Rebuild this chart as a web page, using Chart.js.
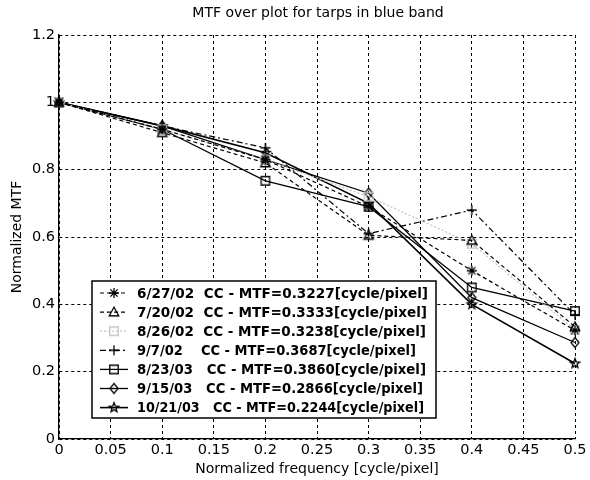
<!DOCTYPE html>
<html><head><meta charset="utf-8">
<script src="https://cdn.jsdelivr.net/npm/chart.js@4/dist/chart.umd.min.js"></script>
<style>html,body{margin:0;padding:0;background:#fff}#wrap{width:590px;height:480px;position:relative}</style>
</head><body><div id="wrap"><canvas id="c" width="590" height="480"></canvas></div>
<script>
const chartTitle = 'MTF over plot for tarps in blue band';
const xAxisTitle = 'Normalized frequency [cycle/pixel]';
const yAxisTitle = 'Normalized MTF';
const frequencies = [0, 0.1, 0.2, 0.3, 0.4, 0.5];
const seriesLabels = [
  '6/27/02  CC - MTF=0.3227[cycle/pixel]',
  '7/20/02  CC - MTF=0.3333[cycle/pixel]',
  '8/26/02  CC - MTF=0.3238[cycle/pixel]',
  '9/7/02    CC - MTF=0.3687[cycle/pixel]',
  '8/23/03   CC - MTF=0.3860[cycle/pixel]',
  '9/15/03   CC - MTF=0.2866[cycle/pixel]',
  '10/21/03   CC - MTF=0.2244[cycle/pixel]'
];
const mtf_062702 = [1, 0.92, 0.83, 0.69, 0.50, 0.3227];
const mtf_072002 = [1, 0.91, 0.82, 0.605, 0.59, 0.3333];
const mtf_082602 = [1, 0.92, 0.83, 0.72, 0.58, 0.3238];
const mtf_090702 = [1, 0.93, 0.865, 0.61, 0.68, 0.3687];
const mtf_082303 = [1, 0.92, 0.767, 0.69, 0.45, 0.38];
const mtf_091503 = [1, 0.93, 0.83, 0.73, 0.42, 0.2866];
const mtf_102103 = [1, 0.93, 0.85, 0.70, 0.40, 0.2244];
const yTicks = [0, 0.2, 0.4, 0.6, 0.8, 1, 1.2];
const xTicks = [0, 0.05, 0.1, 0.15, 0.2, 0.25, 0.3, 0.35, 0.4, 0.45, 0.5];

const seriesValues = [mtf_062702, mtf_072002, mtf_082602, mtf_090702, mtf_082303, mtf_091503, mtf_102103];
const styles = [
  {marker:'asterisk', color:'#000', dash:[4,3], width:1.2},
  {marker:'triangle', color:'#000', dash:[4,3], width:1.2},
  {marker:'square', color:'#c4c4c4', dash:[2,2], width:1.2},
  {marker:'plus', color:'#000', dash:[6,3,2,3], width:1.2},
  {marker:'square', color:'#000', dash:[], width:1.3},
  {marker:'diamond', color:'#000', dash:[], width:1.3},
  {marker:'pentagram', color:'#000', dash:[], width:1.6}
];
const legendTextEnds = [428, 427, 426, 416, 426, 423, 424];

function drawMarker(ctx, style, x, y, r, color) {
  ctx.save();
  ctx.strokeStyle = color; ctx.lineWidth = 1.3; ctx.setLineDash([]);
  ctx.beginPath();
  if (style === 'asterisk') {
    ctx.moveTo(x - r, y); ctx.lineTo(x + r, y);
    ctx.moveTo(x, y - r); ctx.lineTo(x, y + r);
    const d = r * 0.72;
    ctx.moveTo(x - d, y - d); ctx.lineTo(x + d, y + d);
    ctx.moveTo(x - d, y + d); ctx.lineTo(x + d, y - d);
  } else if (style === 'triangle') {
    ctx.moveTo(x, y - r); ctx.lineTo(x + r * 0.95, y + r * 0.75); ctx.lineTo(x - r * 0.95, y + r * 0.75); ctx.closePath();
  } else if (style === 'square') {
    const s = r * 0.85;
    ctx.rect(x - s, y - s, 2 * s, 2 * s);
  } else if (style === 'plus') {
    ctx.moveTo(x - r, y); ctx.lineTo(x + r, y);
    ctx.moveTo(x, y - r); ctx.lineTo(x, y + r);
  } else if (style === 'diamond') {
    ctx.moveTo(x, y - r); ctx.lineTo(x + r * 0.8, y); ctx.lineTo(x, y + r); ctx.lineTo(x - r * 0.8, y); ctx.closePath();
  } else if (style === 'pentagram') {
    for (let i = 0; i < 10; i++) {
      const a = -Math.PI / 2 + i * Math.PI / 5;
      const rr = i % 2 === 0 ? r : r * 0.42;
      const px = x + rr * Math.cos(a), py = y + rr * Math.sin(a);
      if (i === 0) ctx.moveTo(px, py); else ctx.lineTo(px, py);
    }
    ctx.closePath();
  }
  ctx.stroke();
  ctx.restore();
}

function markerImage(style, color) {
  const r = 5, size = 2 * r + 4;
  const cv = document.createElement('canvas');
  cv.width = size; cv.height = size;
  drawMarker(cv.getContext('2d'), style, size / 2, size / 2, r, color);
  return cv;
}

const markerImages = styles.map(s => markerImage(s.marker, s.color));

const datasets = seriesLabels.map((label, i) => ({
  label: label,
  data: frequencies.map((f, j) => ({x: f, y: seriesValues[i][j]})),
  borderColor: styles[i].color,
  borderWidth: styles[i].width,
  borderDash: styles[i].dash,
  pointStyle: markerImages[i],
  pointRadius: 5,
  fill: false,
  tension: 0,
  clip: false
}));

const FONT = '"DejaVu Sans", "Liberation Sans", Arial, sans-serif';

const titleAndLegend = {
  id: 'titleAndLegend',
  afterDraw(chart) {
    const ctx = chart.ctx, ca = chart.chartArea;
    ctx.save();
    ctx.fillStyle = '#000';
    ctx.font = '14px ' + FONT;
    ctx.textAlign = 'center'; ctx.textBaseline = 'middle';
    ctx.fillText(chartTitle, (ca.left + ca.right) / 2 + 1, 13);
    // legend box
    const bx = 92, by = 281, bw = 344, bh = 137;
    ctx.fillStyle = '#fff';
    ctx.fillRect(bx, by, bw, bh);
    ctx.strokeStyle = '#000'; ctx.lineWidth = 1.5; ctx.setLineDash([]);
    ctx.strokeRect(bx, by, bw, bh);
    ctx.font = 'bold 13.5px ' + FONT;
    ctx.textAlign = 'left';
    chart.data.datasets.forEach((ds, i) => {
      const y = by + 12 + i * 19.1;
      ctx.save();
      ctx.strokeStyle = ds.borderColor; ctx.lineWidth = ds.borderWidth;
      ctx.setLineDash(ds.borderDash);
      ctx.beginPath(); ctx.moveTo(100, y); ctx.lineTo(128, y); ctx.stroke();
      ctx.restore();
      const img = markerImages[i];
      ctx.drawImage(img, 114 - img.width / 2, y - img.height / 2);
      const w = ctx.measureText(ds.label).width;
      const sx = (legendTextEnds[i] - 137) / w;
      ctx.save();
      ctx.translate(137, y + 1);
      ctx.scale(sx, 1);
      ctx.fillStyle = '#000';
      ctx.fillText(ds.label, 0, 0);
      ctx.restore();
    });
    ctx.restore();
  }
};

new Chart(document.getElementById('c'), {
  type: 'line',
  data: {datasets: datasets},
  options: {
    responsive: false,
    animation: false,
    devicePixelRatio: 1,
    layout: {padding: {left: 0, right: 15, top: 35, bottom: 0}},
    plugins: {legend: {display: false}, tooltip: {enabled: false}, title: {display: false}},
    scales: {
      x: {
        type: 'linear', min: 0, max: 0.5,
        afterFit: s => { s.height = 41; },
        afterBuildTicks: s => { s.ticks = xTicks.map(v => ({value: v})); },
        ticks: {color: '#000', font: {family: FONT, size: 14.5}, padding: 3, maxRotation: 0,
          callback: v => String(Number(v.toFixed(2)))},
        grid: {color: '#000', lineWidth: 1, drawTicks: false},
        border: {display: true, color: '#000', width: 1.3, dash: [3, 3]},
        title: {display: true, text: xAxisTitle, color: '#000', font: {family: FONT, size: 14}, padding: {top: 0, bottom: 2}}
      },
      y: {
        type: 'linear', min: 0, max: 1.2,
        afterFit: s => { s.width = 59; },
        afterBuildTicks: s => { s.ticks = yTicks.map(v => ({value: v})); },
        ticks: {color: '#000', font: {family: FONT, size: 14.5}, padding: 4,
          callback: v => String(Number(v.toFixed(1)))},
        grid: {color: '#000', lineWidth: 1, drawTicks: false},
        border: {display: true, color: '#000', width: 1.3, dash: [3, 3]},
        title: {display: true, text: yAxisTitle, color: '#000', font: {family: FONT, size: 14}, padding: {top: 9, bottom: 0}}
      }
    }
  },
  plugins: [titleAndLegend]
});
</script>
</body></html>
